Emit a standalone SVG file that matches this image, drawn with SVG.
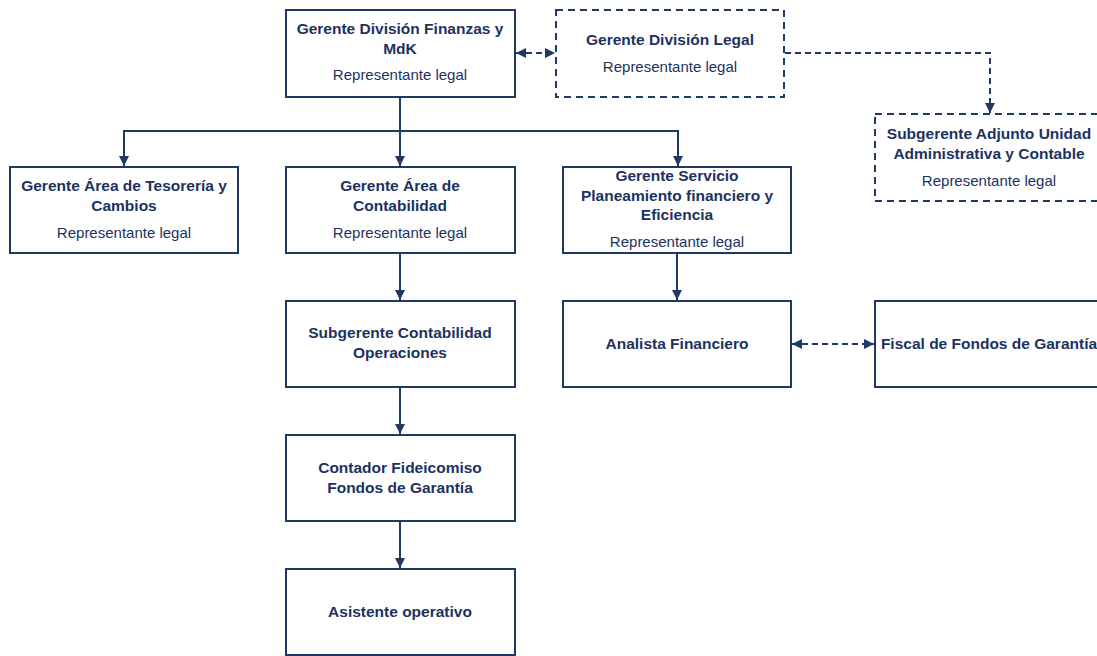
<svg xmlns="http://www.w3.org/2000/svg" width="1097" height="656" viewBox="0 0 1097 656">
<defs>
<style>
.box{fill:#fff;stroke:#1F3864;stroke-width:2}
.dash{fill:#fff;stroke:#1F3864;stroke-width:2;stroke-dasharray:7,5}
.t{font-family:"Liberation Sans",Arial,sans-serif;font-size:15.5px;font-weight:bold;fill:#1C3260;text-anchor:middle}
.s{font-family:"Liberation Sans",Arial,sans-serif;font-size:15px;fill:#1C3260;text-anchor:middle}
.c{fill:none;stroke:#1F3864;stroke-width:2}
.cd{fill:none;stroke:#1F3864;stroke-width:2;stroke-dasharray:6,4}
</style>
<marker id="ah" viewBox="0 0 10 10" refX="10" refY="5" markerWidth="5" markerHeight="5" orient="auto-start-reverse" markerUnits="strokeWidth">
<path d="M0,0 L10,5 L0,10 z" fill="#1F3864"/>
</marker>
</defs>
<rect width="1097" height="656" fill="#fff"/>
<g id="connectors">
<path class="c" d="M400,97 V131 H124 V166" marker-end="url(#ah)"/>
<path class="c" d="M400,131 V166" marker-end="url(#ah)"/>
<path class="c" d="M400,131 H678 V166" marker-end="url(#ah)"/>
<path class="cd" d="M516,53 H555" marker-start="url(#ah)" marker-end="url(#ah)"/>
<path class="cd" d="M785,53 H990 V113" marker-end="url(#ah)"/>
<path class="c" d="M400,253 V300" marker-end="url(#ah)"/>
<path class="c" d="M677,253 V300" marker-end="url(#ah)"/>
<path class="cd" d="M792,344 H874" marker-start="url(#ah)" marker-end="url(#ah)"/>
<path class="c" d="M400,387 V434" marker-end="url(#ah)"/>
<path class="c" d="M400,521 V568" marker-end="url(#ah)"/>
</g>
<g id="n-finanzas">
<rect class="box" x="286" y="10" width="229" height="87"/>
<text class="t" x="400" y="34">Gerente División Finanzas y</text>
<text class="t" x="400" y="54">MdK</text>
<text class="s" x="400" y="80">Representante legal</text>
</g>
<g id="n-legal">
<rect class="dash" x="556" y="10" width="228" height="87"/>
<text class="t" x="670" y="45">Gerente División Legal</text>
<text class="s" x="670" y="72">Representante legal</text>
</g>
<g id="n-adjunto">
<rect class="dash" x="875" y="114" width="230" height="87"/>
<text class="t" x="989" y="139">Subgerente Adjunto Unidad</text>
<text class="t" x="989" y="159">Administrativa y Contable</text>
<text class="s" x="989" y="186">Representante legal</text>
</g>
<g id="n-tesoreria">
<rect class="box" x="10" y="167" width="228" height="86"/>
<text class="t" x="124" y="191">Gerente Área de Tesorería y</text>
<text class="t" x="124" y="211">Cambios</text>
<text class="s" x="124" y="238">Representante legal</text>
</g>
<g id="n-contabilidad">
<rect class="box" x="286" y="167" width="229" height="86"/>
<text class="t" x="400" y="191">Gerente Área de</text>
<text class="t" x="400" y="211">Contabilidad</text>
<text class="s" x="400" y="238">Representante legal</text>
</g>
<g id="n-servicio">
<rect class="box" x="563" y="167" width="228" height="86"/>
<text class="t" x="677" y="181">Gerente Servicio</text>
<text class="t" x="677" y="201">Planeamiento financiero y</text>
<text class="t" x="677" y="220">Eficiencia</text>
<text class="s" x="677" y="247">Representante legal</text>
</g>
<g id="n-subcont">
<rect class="box" x="286" y="301" width="229" height="86"/>
<text class="t" x="400" y="338">Subgerente Contabilidad</text>
<text class="t" x="400" y="358">Operaciones</text>
</g>
<g id="n-analista">
<rect class="box" x="563" y="301" width="228" height="86"/>
<text class="t" x="677" y="349">Analista Financiero</text>
</g>
<g id="n-fiscal">
<rect class="box" x="875" y="301" width="230" height="86"/>
<text class="t" x="989" y="349">Fiscal de Fondos de Garantía</text>
</g>
<g id="n-contador">
<rect class="box" x="286" y="435" width="229" height="86"/>
<text class="t" x="400" y="473">Contador Fideicomiso</text>
<text class="t" x="400" y="493">Fondos de Garantía</text>
</g>
<g id="n-asistente">
<rect class="box" x="286" y="569" width="229" height="86"/>
<text class="t" x="400" y="617">Asistente operativo</text>
</g>
</svg>
